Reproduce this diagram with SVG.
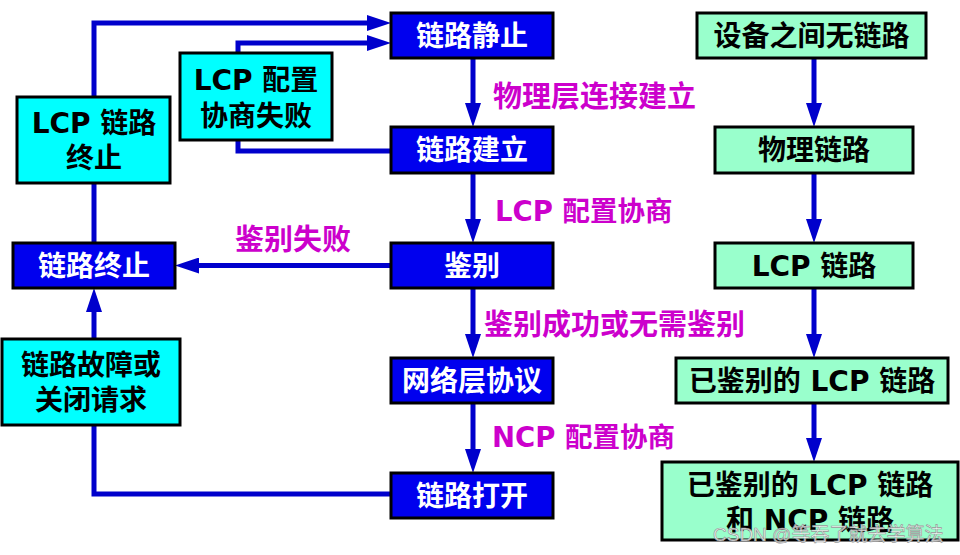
<svg xmlns="http://www.w3.org/2000/svg" width="960" height="555" viewBox="0 0 960 555">
<defs>
<marker id="ah" markerUnits="userSpaceOnUse" markerWidth="26" markerHeight="16" refX="12" refY="8" orient="auto">
<path d="M0,0 L24,8 L0,16 z" fill="#0000CC"/>
</marker>
<style>
.blue{fill:#0000EE;stroke:#000;stroke-width:3}
.cyan{fill:#00FFFF;stroke:#000;stroke-width:3}
.mint{fill:#99FFCC;stroke:#000;stroke-width:3}
.t{font-family:"DejaVu Sans","Noto Sans CJK SC",sans-serif;font-weight:bold;font-size:28px;text-anchor:middle}
.w{fill:#fff}
.k{fill:#000}
.lab{font-family:"DejaVu Sans","Noto Sans CJK SC",sans-serif;font-weight:bold;font-size:29px;fill:#CC00CC}
.sm{font-size:27.5px}
.c{fill:none;stroke:#0000CC;stroke-width:5}
.a{marker-end:url(#ah)}
</style>
</defs>
<rect width="960" height="555" fill="#fff"/>
<g id="connectors">
<path class="c a" d="M473,58 V115"/>
<path class="c a" d="M473,173 V231"/>
<path class="c a" d="M473,288 V346"/>
<path class="c a" d="M473,403 V461"/>
<path class="c a" d="M391,265.5 H187"/>
<path class="c" d="M391,494 H94 V425"/>
<path class="c a" d="M94,339 V300"/>
<path class="c" d="M94,243 V183"/>
<path class="c a" d="M94,97 V23 H379"/>
<path class="c a" d="M391,151 H238 V43 H379"/>
<path class="c a" d="M814,58 V115"/>
<path class="c a" d="M814,173 V231"/>
<path class="c a" d="M814,288 V346"/>
<path class="c a" d="M814,403 V450"/>
</g>
<g id="labels">
<text class="lab" x="493" y="107">物理层连接建立</text>
<text class="lab sm" x="495" y="221">LCP 配置协商</text>
<text class="lab" x="235" y="250">鉴别失败</text>
<text class="lab" x="484" y="335">鉴别成功或无需鉴别</text>
<text class="lab sm" x="492" y="447">NCP 配置协商</text>
</g>
<g id="n-jingzhi"><rect class="blue" x="391" y="13" width="162" height="45"/><text class="t w" x="472" y="45.5">链路静止</text></g>
<g id="n-jianli"><rect class="blue" x="391" y="127" width="162" height="46"/><text class="t w" x="472" y="160">链路建立</text></g>
<g id="n-jianbie"><rect class="blue" x="391" y="243" width="162" height="45"/><text class="t w" x="472" y="275.5">鉴别</text></g>
<g id="n-wangluo"><rect class="blue" x="391" y="358" width="162" height="45"/><text class="t w" x="472" y="390.5">网络层协议</text></g>
<g id="n-dakai"><rect class="blue" x="391" y="473" width="162" height="45"/><text class="t w" x="472" y="505.5">链路打开</text></g>
<g id="n-zhongzhi"><rect class="blue" x="13" y="243" width="162" height="45"/><text class="t w" x="94" y="275.5">链路终止</text></g>
<g id="n-lcpfail"><rect class="cyan" x="180" y="53" width="152" height="87"/><text class="t k" x="256" y="90">LCP 配置</text><text class="t k" x="256" y="126">协商失败</text></g>
<g id="n-lcpterm"><rect class="cyan" x="17" y="97" width="153" height="86"/><text class="t k" x="94" y="133">LCP 链路</text><text class="t k" x="94" y="168">终止</text></g>
<g id="n-fault"><rect class="cyan" x="2" y="339" width="178" height="86"/><text class="t k" x="91" y="375">链路故障或</text><text class="t k" x="91" y="410">关闭请求</text></g>
<g id="n-nolink"><rect class="mint" x="697" y="13" width="229" height="45"/><text class="t k" x="811.5" y="45.5">设备之间无链路</text></g>
<g id="n-phys"><rect class="mint" x="715" y="127" width="198" height="46"/><text class="t k" x="814" y="160">物理链路</text></g>
<g id="n-lcplink"><rect class="mint" x="715" y="243" width="198" height="45"/><text class="t k" x="814" y="275.5">LCP 链路</text></g>
<g id="n-authlcp"><rect class="mint" x="676" y="358" width="272" height="45"/><text class="t k" x="812" y="390.5">已鉴别的 LCP 链路</text></g>
<g id="n-authncp"><rect class="mint" x="662" y="462" width="296" height="78"/><text class="t k" x="810" y="495">已鉴别的 LCP 链路</text><text class="t k" x="810" y="530">和 NCP 链路</text></g>
<text x="713" y="541" font-family="'Liberation Sans','Noto Sans CJK SC',sans-serif" font-size="19" fill="#fff" fill-opacity="0.85" stroke="#999" stroke-width="0.7">CSDN @等吞了就去学算法</text>
</svg>
